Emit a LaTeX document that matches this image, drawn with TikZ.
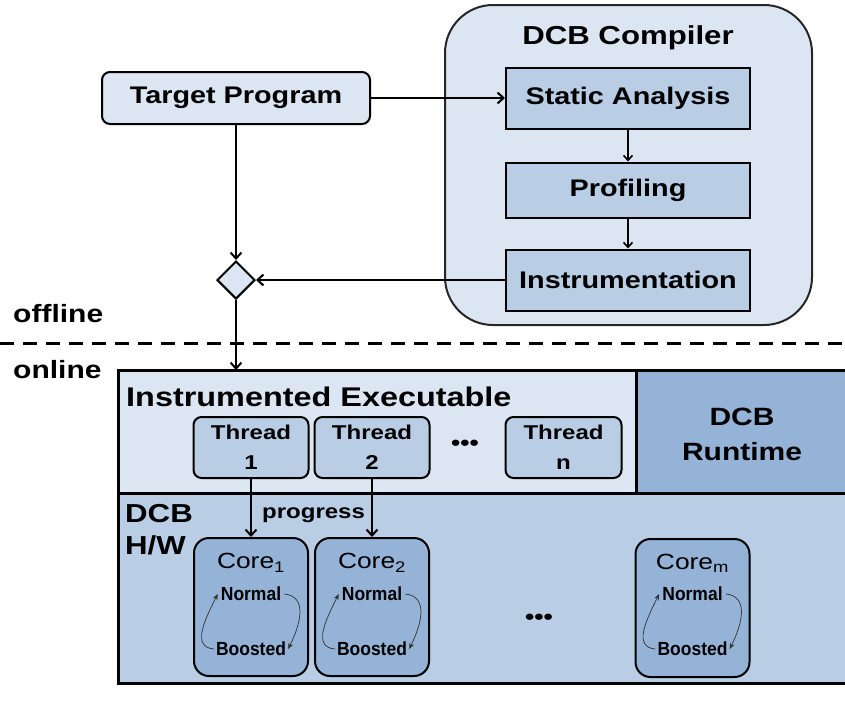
\documentclass[tikz,border=0pt]{standalone}
\usepackage{fontspec}
\setmainfont[FakeStretch=1.2]{Liberation Sans}
\newfontfamily\narrowfont[FakeStretch=0.92]{Liberation Sans}
\usetikzlibrary{arrows.meta,shapes.geometric}
\definecolor{paleblue}{HTML}{DCE6F2}
\definecolor{midblue}{HTML}{B9CDE5}
\definecolor{deepblue}{HTML}{95B3D7}
\begin{document}
\begin{tikzpicture}[x=1pt,y=-1pt,
  box/.style={draw=black, line width=2pt, fill=midblue, inner sep=0pt,
    font=\fontsize{24}{28}\selectfont\bfseries},
  thread/.style={box, rounded corners=8pt, minimum width=115pt, minimum height=61pt,
    align=center, font=\fontsize{20}{30}\selectfont\bfseries},
  core/.style={draw=black, line width=2pt, fill=deepblue, rounded corners=15pt,
    minimum width=114pt, minimum height=138pt, inner sep=0pt},
  corelabel/.style={font=\fontsize{22}{24}\selectfont, inner sep=0pt},
  statelabel/.style={font=\narrowfont\bfseries\fontsize{19}{20}\selectfont, inner sep=1pt},
  flow/.style={line width=2pt, -{Straight Barb[length=6pt,width=11pt]}},
  innerflow/.style={line width=1.6pt, -{Straight Barb[length=5pt,width=9pt]}},
  cycle/.style={line width=0.7pt, draw=black!80, -{Stealth[length=6pt,width=5pt]}},
  region/.style={inner sep=0pt, anchor=north west},
  frame/.style={line width=3pt, line cap=rect},
  heading/.style={inner sep=0pt, font=\fontsize{26}{30}\selectfont\bfseries}
]
\useasboundingbox (0,0) rectangle (845,702);

% ---------- offline part: compiler flow ----------
\node[draw=black!85, line width=2pt, fill=paleblue, rounded corners=48pt,
      minimum width=367pt, minimum height=320pt] (compiler) at (628.5,165) {};
\node[heading] (ctitle) at (628,38) {DCB Compiler};

\node[box, minimum width=244pt, minimum height=61pt] (static) at (628,98) {Static Analysis};
\node[box, minimum width=244pt, minimum height=55pt] (prof) at (628,190) {Profiling};
\node[box, minimum width=244pt, minimum height=61pt] (instr) at (628,280) {Instrumentation};

\node[box, fill=paleblue, rounded corners=8pt, minimum width=268pt, minimum height=52pt]
  (target) at (236,98) {Target Program};

\node[diamond, draw=black, line width=2pt, fill=paleblue, inner sep=0pt,
      minimum width=38pt, minimum height=38pt] (merge) at (236,280) {};

\draw[flow] (target) -- (static);
\draw[innerflow] (static) -- (prof);
\draw[innerflow] (prof) -- (instr);
\draw[flow] (target) -- (merge);
\draw[flow] (instr) -- (merge);

% ---------- offline / online separator ----------
\coordinate (sepL) at (0,343);
\coordinate (sepR) at (845,343);
\draw[line width=3pt, dash pattern=on 14pt off 9pt] (sepL) -- (sepR);
\node[anchor=base west, inner sep=0pt, font=\fontsize{25}{28}\selectfont\bfseries]
  (offline) at (13,322) {offline};
\node[anchor=base west, inner sep=0pt, font=\fontsize{25}{28}\selectfont\bfseries]
  (online) at (13,378) {online};

% ---------- online part: executable, runtime, hardware ----------
\node[region, fill=paleblue, minimum width=518pt, minimum height=123pt] (exe) at (118,370) {};
\node[region, fill=deepblue, minimum width=212pt, minimum height=123pt] (rt) at (636,370) {};
\node[region, fill=midblue, minimum width=730pt, minimum height=190pt] (hw) at (118,493) {};
\draw[frame] (rt.north east) -- (exe.north west) -- (hw.south west) -- (hw.south east);
\draw[frame] (exe.south west) -- (rt.south east);
\draw[frame] (exe.north east) -- (exe.south east);

\draw[flow] (merge) -- (merge |- exe.north);

\node[anchor=west, inner sep=0pt, font=\fontsize{27}{30}\selectfont\bfseries]
  (exelabel) at (126,397) {Instrumented Executable};
\node[anchor=base, inner sep=0pt, font=\fontsize{25}{30}\selectfont\bfseries]
  (rtlabelA) at (742,425) {DCB};
\node[anchor=base, inner sep=0pt, font=\fontsize{25}{30}\selectfont\bfseries]
  (rtlabelB) at (742,460) {Runtime};
\node[anchor=base west, inner sep=0pt, font=\fontsize{26}{30}\selectfont\bfseries]
  (hwlabelA) at (125,522) {DCB};
\node[anchor=base west, inner sep=0pt, font=\fontsize{26}{30}\selectfont\bfseries]
  (hwlabelB) at (125,554) {H/W};

% threads
\node[thread] (t1) at (251,447.5) {Thread\\1};
\node[thread] (t2) at (372,447.5) {Thread\\2};
\node[thread, minimum width=116pt] (tn) at (563.5,447.5) {Thread\\n};
\node[inner sep=0pt, font=\fontsize{22}{22}\selectfont\bfseries] (tdots) at (465,445) {•••};

% cores
\node[core] (c1) at (251,607) {};
\node[core] (c2) at (372,607) {};
\node[core] (cm) at (692.5,608) {};
\node[inner sep=0pt, font=\fontsize{22}{22}\selectfont\bfseries] (cdots) at (539,619) {•••};

\node[corelabel] (c1lab) at (251,563) {Core\textsubscript{1}};
\node[corelabel] (c2lab) at (372,563) {Core\textsubscript{2}};
\node[corelabel] (cmlab) at (692.5,563) {Core\textsubscript{m}};

\node[statelabel] (n1) at (251,594) {Normal};
\node[statelabel] (b1) at (251,649) {Boosted};
\node[statelabel] (n2) at (372,594) {Normal};
\node[statelabel] (b2) at (372,649) {Boosted};
\node[statelabel] (nm) at (692.5,594) {Normal};
\node[statelabel] (bm) at (692.5,649) {Boosted};

% Normal <-> Boosted state cycle inside each core
\foreach \n/\b in {n1/b1, n2/b2, nm/bm} {
  \draw[cycle] ([xshift=2pt]\n.east) .. controls +(22,2) and +(14,-28) .. ([xshift=1pt]\b.east);
  \draw[cycle] ([xshift=-1pt]\b.west) .. controls +(-22,-2) and +(-14,28) .. ([xshift=-2pt]\n.west);
}

% progress signals from threads to cores
\draw[flow] (t1) -- (c1);
\draw[flow] (t2) -- (c2);
\node[anchor=base west, inner sep=0pt, font=\fontsize{20}{22}\selectfont\bfseries]
  (progress) at (262,518) {progress};

\end{tikzpicture}
\end{document}
